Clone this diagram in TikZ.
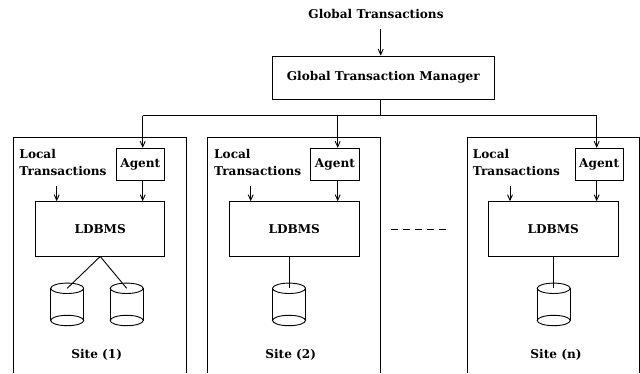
\documentclass[tikz,border=0pt]{standalone}
\usepackage{fontspec}
\setmainfont{DejaVu Serif}
\usetikzlibrary{arrows.meta,calc}
\tikzset{
  lbl/.style={font=\bfseries\fontsize{12.1}{16.4}\selectfont,inner sep=0pt},
  box/.style={draw,line width=0.95pt,inner sep=0pt,font=\bfseries\fontsize{12.1}{16.4}\selectfont},
  area/.style={inner sep=0pt},
  ln/.style={line width=0.9pt},
  arr/.style={line width=0.9pt,-{Straight Barb[length=5.5pt,width=5pt]}},
  dbcyl/.pic={
    \draw[ln] (-16.5,0) -- (-16.5,32.2) (16.5,0) -- (16.5,32.2);
    \draw[ln] (0,0) ellipse[x radius=16.5pt,y radius=5.2pt];
    \draw[ln] (0,32.2) ellipse[x radius=16.5pt,y radius=5.2pt];
    \coordinate (-top) at (0,0);
  }
}
\begin{document}
\begin{tikzpicture}[x=1pt,y=-1pt]
\useasboundingbox (0,0) rectangle (640,373);
% global part
\node[lbl] (gt) at (376,14) {Global Transactions};
\node[box,minimum width=221.3pt,minimum height=43.3pt] (gtm) at (383.35,77.7) {Global Transaction Manager};
\coordinate (g0) at (380.7,29);
\draw[arr] (g0) -- (g0 |- gtm.north);
\coordinate (j0) at (380.7,115.7);
\coordinate (t1) at (142.7,115.7);
\coordinate (t2) at (337.7,115.7);
\coordinate (t3) at (596.7,115.7);
\draw[ln] (j0 |- gtm.south) -- (j0);
\draw[ln] (t1) -- (t3);
% site frames
\node[area,minimum width=172.9pt,minimum height=235.7pt] (S1) at (99.75,255.15) {};
\node[area,minimum width=172.7pt,minimum height=235.7pt] (S2) at (294.35,255.15) {};
\node[area,minimum width=172.2pt,minimum height=235.7pt] (S3) at (553.4,255.15) {};
\foreach \s in {S1,S2,S3}{
  \draw[ln] (\s.south west) -- (\s.north west) -- (\s.north east) -- (\s.south east);
}
% agents
\node[box,minimum width=48.7pt,minimum height=32.4pt] (A1) at (140.35,164.5) {Agent};
\node[box,minimum width=48.7pt,minimum height=32.4pt] (A2) at (334.95,164.5) {Agent};
\node[box,minimum width=48.3pt,minimum height=32.4pt] (A3) at (599.15,164.5) {Agent};
% local transactions
\node[lbl,anchor=west,align=left] (lt1) at (19.3,162.5) {Local\\Transactions};
\node[lbl,anchor=west,align=left] (lt2) at (214.0,162.5) {Local\\Transactions};
\node[lbl,anchor=west,align=left] (lt3) at (472.7,162.5) {Local\\Transactions};
% LDBMS
\node[box,minimum width=129pt,minimum height=54.3pt] (L1) at (100.2,228.85) {LDBMS};
\node[box,minimum width=130pt,minimum height=54.3pt] (L2) at (294.3,228.85) {LDBMS};
\node[box,minimum width=130pt,minimum height=54.3pt] (L3) at (553.3,228.85) {LDBMS};
% arrows to agents and LDBMS
\draw[arr] (t1) -- (t1 |- A1.north);
\draw[arr] (t2) -- (t2 |- A2.north);
\draw[arr] (t3) -- (t3 |- A3.north);
\draw[arr] (t1 |- A1.south) -- (t1 |- L1.north);
\draw[arr] (t2 |- A2.south) -- (t2 |- L2.north);
\draw[arr] (t3 |- A3.south) -- (t3 |- L3.north);
\coordinate (ls1) at (56.7,185.7);
\coordinate (ls2) at (250.7,185.7);
\coordinate (ls3) at (510.0,185.7);
\draw[arr] (ls1) -- (ls1 |- L1.north);
\draw[arr] (ls2) -- (ls2 |- L2.north);
\draw[arr] (ls3) -- (ls3 |- L3.north);
% databases
\pic (c1) at (67.2,288.3) {dbcyl};
\pic (c2) at (126.7,288.3) {dbcyl};
\pic (c3) at (289,288.3) {dbcyl};
\pic (c4) at (553.7,288.3) {dbcyl};
\draw[ln] (L1.south) -- (c1-top);
\draw[ln] (L1.south) -- (c2-top);
\draw[ln] (c3-top |- L2.south) -- (c3-top);
\draw[ln] (c4-top |- L3.south) -- (c4-top);
% site labels
\node[lbl] (s1) at (96.7,355) {Site (1)};
\node[lbl] (s2) at (290.7,355) {Site (2)};
\node[lbl] (s3) at (556,355) {Site (n)};
% ellipsis
\coordinate (d0) at (391,229);
\coordinate (d1) at (450,229);
\draw[ln,dash pattern=on 7pt off 5pt] (d0) -- (d1);
\end{tikzpicture}
\end{document}
